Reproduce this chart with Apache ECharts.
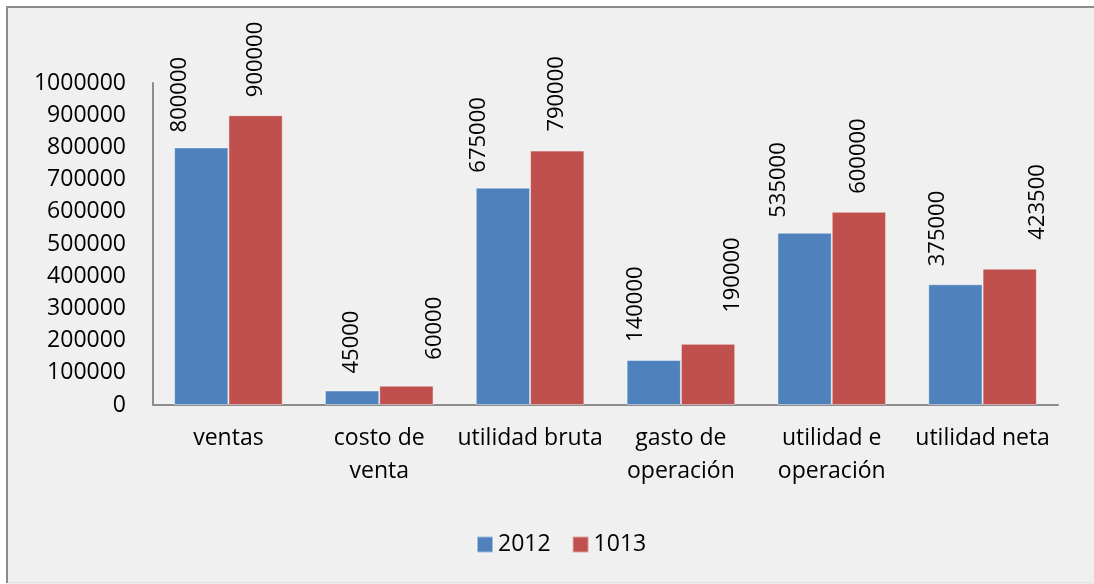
<!DOCTYPE html>
<html>
<head>
<meta charset="utf-8">
<script src="https://cdn.jsdelivr.net/npm/echarts@6/dist/echarts.min.js"></script>
<style>
  html, body { margin: 0; padding: 0; background: #fff; }
  #main { width: 1094px; height: 584px; }
</style>
</head>
<body>
<div id="main"></div>
<script>
// categories (wrapped as in the original axis)
const categories = ['ventas', 'costo de\nventa', 'utilidad bruta', 'gasto de\noperación', 'utilidad e\noperación', 'utilidad neta']
const values2012 = [800000, 45000, 675000, 140000, 535000, 375000]
const values1013 = [900000, 60000, 790000, 190000, 600000, 423500]
const seriesNames = ['2012', '1013']

// hand-moved labels in the original: [up, right] nudges
const nudge2012 = [[0, -22], [2, 0], [0, -24], [3, -18], [0, -26], [3, -18]]
const nudge1013 = [[3, 0], [11, 28], [4, 0], [16, 25], [3, 0], [14, 28]]

const FONT = 'Open Sans'

const chartDom = document.getElementById('main')
const myChart = echarts.init(chartDom)

function withLabels(values, nudges) {
  return values.map((v, i) => ({
    value: v,
    label: { offset: nudges[i] }
  }))
}

const labelStyle = {
  show: true,
  position: 'top',
  rotate: 90,
  align: 'left',
  verticalAlign: 'middle',
  distance: 15,
  color: '#000',
  fontFamily: FONT,
  fontSize: 22
}

const option = {
  animation: false,
  backgroundColor: '#fff',
  graphic: [
    {
      type: 'rect',
      z: -10,
      shape: { x: 7, y: 7, width: 1100, height: 576 },
      style: { fill: '#f0f0f0', stroke: '#d9d9d9', lineWidth: 1 }
    },
    {
      type: 'polyline',
      z: -9,
      shape: { points: [[7, 583], [7, 7], [1094, 7]] },
      style: { stroke: '#8c8c8c', lineWidth: 2, fill: null }
    }
  ],
  legend: {
    left: 476,
    top: 533,
    padding: 0,
    itemWidth: 16,
    itemHeight: 16,
    itemGap: 21,
    icon: 'rect',
    textStyle: { color: '#000', fontFamily: FONT, fontSize: 23 },
    data: seriesNames
  },
  grid: {
    left: 153,
    right: 36,
    top: 83,
    bottom: 179,
    containLabel: false
  },
  xAxis: {
    type: 'category',
    data: categories,
    axisTick: { show: false },
    axisLine: { lineStyle: { color: '#8c8c8c', width: 2 } },
    axisLabel: {
      interval: 0,
      margin: 17,
      color: '#000',
      fontFamily: FONT,
      fontSize: 23,
      lineHeight: 33
    }
  },
  yAxis: {
    type: 'value',
    min: 0,
    max: 1000000,
    interval: 100000,
    splitLine: { show: false },
    axisTick: { show: false },
    axisLine: { show: true, lineStyle: { color: '#8c8c8c', width: 2 } },
    axisLabel: {
      margin: 27,
      color: '#000',
      fontFamily: FONT,
      fontSize: 23,
      formatter: (v) => String(v)
    }
  },
  series: [
    {
      name: seriesNames[0],
      type: 'bar',
      barGap: '0%',
      barCategoryGap: '28%',
      itemStyle: { color: '#4F81BD', borderColor: 'rgba(255,255,255,0.45)', borderWidth: 1 },
      label: labelStyle,
      data: withLabels(values2012, nudge2012)
    },
    {
      name: seriesNames[1],
      type: 'bar',
      barGap: '0%',
      barCategoryGap: '28%',
      itemStyle: { color: '#C0504D', borderColor: 'rgba(255,255,255,0.45)', borderWidth: 1 },
      label: labelStyle,
      data: withLabels(values1013, nudge1013)
    }
  ]
}
option && myChart.setOption(option)
</script>
</body>
</html>
